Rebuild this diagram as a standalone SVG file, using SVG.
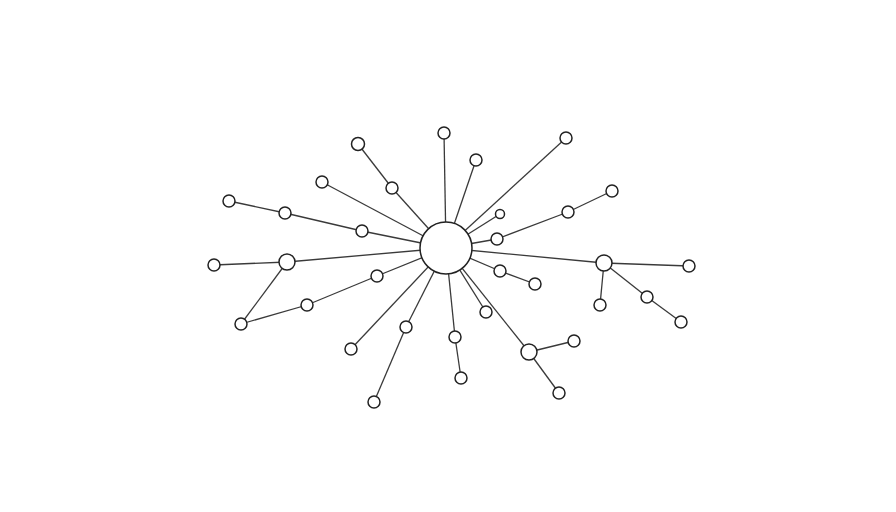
<svg xmlns="http://www.w3.org/2000/svg" width="896" height="512" viewBox="0 0 896 512">
<style>
.e{stroke:#3a3a3a;stroke-width:1.3;fill:none}
.n{fill:#fff;stroke:#222;stroke-width:1.5}
</style>
<rect width="896" height="512" fill="#fff"/>
<g id="connectors" class="e">
<line x1="446" y1="248" x2="444" y2="133"/>
<line x1="446" y1="248" x2="392" y2="188"/><line x1="392" y1="188" x2="358" y2="144"/>
<line x1="446" y1="248" x2="322" y2="182"/>
<line x1="446" y1="248" x2="362" y2="231"/><line x1="362" y1="231" x2="285" y2="213"/><line x1="285" y1="213" x2="229" y2="201"/>
<line x1="446" y1="248" x2="287" y2="262"/><line x1="287" y1="262" x2="214" y2="265"/><line x1="287" y1="262" x2="241" y2="324"/>
<line x1="241" y1="324" x2="307" y2="305"/><line x1="307" y1="305" x2="377" y2="276"/><line x1="377" y1="276" x2="446" y2="248"/>
<line x1="446" y1="248" x2="351" y2="349"/>
<line x1="446" y1="248" x2="406" y2="327"/><line x1="406" y1="327" x2="374" y2="402"/>
<line x1="446" y1="248" x2="455" y2="337"/><line x1="455" y1="337" x2="461" y2="378"/>
<line x1="446" y1="248" x2="486" y2="312"/>
<line x1="446" y1="248" x2="529" y2="352"/><line x1="529" y1="352" x2="574" y2="341"/><line x1="529" y1="352" x2="559" y2="393"/>
<line x1="446" y1="248" x2="500" y2="271"/><line x1="500" y1="271" x2="535" y2="284"/>
<line x1="446" y1="248" x2="604" y2="263"/><line x1="604" y1="263" x2="689" y2="266"/><line x1="604" y1="263" x2="600" y2="305"/><line x1="604" y1="263" x2="647" y2="297"/><line x1="647" y1="297" x2="681" y2="322"/>
<line x1="446" y1="248" x2="497" y2="239"/><line x1="497" y1="239" x2="568" y2="212"/><line x1="568" y1="212" x2="612" y2="191"/>
<line x1="446" y1="248" x2="500" y2="214"/>
<line x1="446" y1="248" x2="566" y2="138"/>
<line x1="446" y1="248" x2="476" y2="160"/>
</g>
<g id="hub"><circle class="n" cx="446" cy="248" r="26"/></g>
<g id="n1"><circle class="n" cx="444" cy="133" r="6"/></g>
<g id="n2"><circle class="n" cx="392" cy="188" r="6"/></g>
<g id="n3"><circle class="n" cx="358" cy="144" r="6.5"/></g>
<g id="n4"><circle class="n" cx="322" cy="182" r="6"/></g>
<g id="n5"><circle class="n" cx="362" cy="231" r="6"/></g>
<g id="n6"><circle class="n" cx="285" cy="213" r="6"/></g>
<g id="n7"><circle class="n" cx="229" cy="201" r="6"/></g>
<g id="n8"><circle class="n" cx="287" cy="262" r="8"/></g>
<g id="n9"><circle class="n" cx="214" cy="265" r="6"/></g>
<g id="n10"><circle class="n" cx="241" cy="324" r="6"/></g>
<g id="n11"><circle class="n" cx="307" cy="305" r="6"/></g>
<g id="n12"><circle class="n" cx="377" cy="276" r="6"/></g>
<g id="n13"><circle class="n" cx="351" cy="349" r="6"/></g>
<g id="n14"><circle class="n" cx="406" cy="327" r="6"/></g>
<g id="n15"><circle class="n" cx="374" cy="402" r="6"/></g>
<g id="n16"><circle class="n" cx="455" cy="337" r="6"/></g>
<g id="n17"><circle class="n" cx="461" cy="378" r="6"/></g>
<g id="n18"><circle class="n" cx="486" cy="312" r="6"/></g>
<g id="n19"><circle class="n" cx="529" cy="352" r="8"/></g>
<g id="n20"><circle class="n" cx="574" cy="341" r="6"/></g>
<g id="n21"><circle class="n" cx="559" cy="393" r="6"/></g>
<g id="n22"><circle class="n" cx="500" cy="271" r="6"/></g>
<g id="n23"><circle class="n" cx="535" cy="284" r="6"/></g>
<g id="n24"><circle class="n" cx="604" cy="263" r="8"/></g>
<g id="n25"><circle class="n" cx="689" cy="266" r="6"/></g>
<g id="n26"><circle class="n" cx="600" cy="305" r="6"/></g>
<g id="n27"><circle class="n" cx="647" cy="297" r="6"/></g>
<g id="n28"><circle class="n" cx="681" cy="322" r="6"/></g>
<g id="n29"><circle class="n" cx="497" cy="239" r="6"/></g>
<g id="n30"><circle class="n" cx="568" cy="212" r="6"/></g>
<g id="n31"><circle class="n" cx="612" cy="191" r="6"/></g>
<g id="n32"><circle class="n" cx="500" cy="214" r="4.5"/></g>
<g id="n33"><circle class="n" cx="566" cy="138" r="6"/></g>
<g id="n34"><circle class="n" cx="476" cy="160" r="6"/></g>
</svg>
